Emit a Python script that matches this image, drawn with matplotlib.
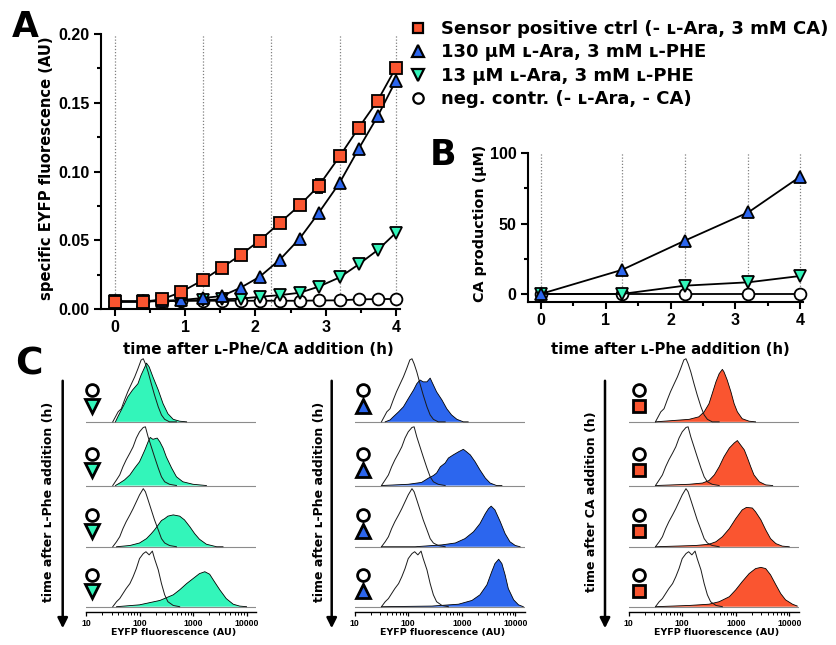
import numpy as np
import matplotlib
matplotlib.use('Agg')
from matplotlib import pyplot as plt
from matplotlib.lines import Line2D
import matplotlib.transforms as mtransforms

plt.rcParams['font.family'] = ['DejaVu Sans']
plt.rcParams['font.weight'] = 'bold'
plt.rcParams['axes.labelweight'] = 'bold'

W, H = 836, 645

RED = '#FA5530'
BLUE = '#2C66EE'
GREEN = '#33F5BA'

# --- panel A: specific EYFP fluorescence (AU) ---
sample_times = [0, 1.25, 2.22, 3.2, 4.0]
t_a = [0, 0.4, 0.67, 0.94, 1.25, 1.52, 1.79, 2.06, 2.35, 2.63, 2.9, 3.2, 3.47, 3.74, 4.0]
sq_a = [0.0053, 0.0053, 0.007, 0.0123, 0.021, 0.030, 0.0394, 0.0498, 0.0628, 0.0754,
        0.0894, 0.111, 0.1317, 0.1514, 0.1754]
sq_err = [0, 0, 0, 0, 0, 0, 0, 0, 0, 0, 0.005, 0, 0, 0, 0]
up_a = [0.0055, 0.0055, 0.006, 0.0065, 0.008, 0.0094, 0.0155, 0.0234, 0.036, 0.0512,
        0.0698, 0.0918, 0.1164, 0.140, 0.166]
down_a = [0.0055, 0.0055, 0.0058, 0.006, 0.0065, 0.007, 0.0075, 0.0089, 0.0101, 0.0118,
          0.0162, 0.023, 0.0324, 0.0428, 0.0553]
neg_a = [0.0055, 0.0055, 0.0058, 0.006, 0.006, 0.006, 0.006, 0.006, 0.006, 0.006,
         0.0062, 0.0063, 0.007, 0.0072, 0.0073]

# --- panel B: CA production (uM) ---
t_b = [0, 1.25, 2.22, 3.2, 4.0]
ca_130 = [0, 17.1, 37.9, 58.1, 83.5]
ca_13 = [0, 0, 5.9, 8.3, 12.8]
ca_neg = [0, 0, 0, 0, 0]

legend_labels = ['Sensor positive ctrl (- ʟ-Ara, 3 mM CA)',
                 '130 µM ʟ-Ara, 3 mM ʟ-PHE',
                 '13 µM ʟ-Ara, 3 mM ʟ-PHE',
                 'neg. contr. (- ʟ-Ara, - CA)']

# --- panel C: histograms, log10(EYFP) vs relative counts, top row = first time point ---
neg_x = [[1.50, 1.55, 1.60, 1.66, 1.72, 1.78, 1.85, 1.91, 1.97, 2.03, 2.07, 2.11, 2.16, 2.22, 2.28, 2.35, 2.41, 2.47, 2.56, 2.69],
         [1.50, 1.57, 1.63, 1.69, 1.75, 1.82, 1.88, 1.94, 2.00, 2.07, 2.11, 2.16, 2.22, 2.28, 2.35, 2.41, 2.47, 2.56, 2.69],
         [1.50, 1.57, 1.63, 1.69, 1.75, 1.82, 1.88, 1.94, 2.00, 2.07, 2.11, 2.16, 2.22, 2.28, 2.35, 2.41, 2.47, 2.56, 2.69],
         [1.50, 1.57, 1.63, 1.69, 1.75, 1.82, 1.88, 1.94, 2.00, 2.07, 2.12, 2.18, 2.24, 2.28, 2.35, 2.41, 2.47, 2.53, 2.63, 2.75]]
neg_y = [[0, 8, 16, 21, 35, 48, 61, 72, 85, 99, 101, 93, 80, 61, 43, 24, 11, 4, 0, 0],
         [0, 9, 17, 30, 41, 52, 62, 76, 86, 93, 94, 78, 62, 46, 28, 14, 6, 2, 0],
         [0, 8, 16, 29, 40, 51, 61, 72, 83, 93, 88, 75, 59, 43, 27, 13, 6, 2, 0],
         [0, 8, 13, 21, 29, 37, 48, 61, 77, 85, 88, 83, 89, 77, 59, 37, 19, 8, 2, 0]]

green_x = [[1.55, 1.60, 1.66, 1.72, 1.78, 1.87, 1.97, 2.03, 2.10, 2.13, 2.18, 2.25, 2.35, 2.44, 2.53, 2.63, 2.75, 2.88],
           [1.55, 1.63, 1.72, 1.82, 1.91, 2.00, 2.10, 2.16, 2.20, 2.25, 2.33, 2.38, 2.44, 2.50, 2.60, 2.69, 2.81, 3.00, 3.25],
           [1.57, 1.82, 2.00, 2.13, 2.22, 2.28, 2.35, 2.41, 2.47, 2.53, 2.63, 2.75, 2.84, 2.94, 3.03, 3.12, 3.25, 3.44, 3.56],
           [1.57, 2.00, 2.38, 2.63, 2.75, 2.88, 3.00, 3.12, 3.22, 3.31, 3.40, 3.50, 3.62, 3.75, 3.87, 4.00]]
green_y = [[0, 9, 19, 29, 40, 51, 61, 75, 88, 94, 88, 72, 51, 29, 13, 4, 1, 0],
           [0, 4, 9, 17, 28, 38, 57, 70, 77, 74, 76, 70, 60, 46, 28, 14, 6, 2, 0],
           [0, 2, 6, 13, 21, 27, 35, 42, 45, 49, 51, 49, 43, 32, 21, 12, 4, 0, 0],
           [0, 3, 10, 19, 27, 37, 45, 53, 56, 52, 40, 27, 13, 4, 1, 0]]

blue_x = [[1.57, 1.66, 1.72, 1.82, 1.91, 2.00, 2.10, 2.16, 2.22, 2.28, 2.35, 2.41, 2.47, 2.53, 2.63, 2.72, 2.81, 2.91, 3.03, 3.12],
          [1.50, 2.00, 2.25, 2.38, 2.47, 2.53, 2.60, 2.69, 2.75, 2.84, 2.94, 3.03, 3.09, 3.16, 3.25, 3.34, 3.44, 3.53, 3.65, 3.75],
          [1.50, 2.13, 2.63, 2.88, 3.06, 3.22, 3.34, 3.44, 3.50, 3.55, 3.62, 3.72, 3.81, 3.90, 4.00, 4.09],
          [1.50, 2.44, 2.94, 3.19, 3.34, 3.47, 3.56, 3.62, 3.69, 3.75, 3.81, 3.87, 3.97, 4.06, 4.15]]
blue_y = [[0, 3, 8, 16, 24, 37, 51, 61, 67, 64, 64, 70, 59, 48, 35, 21, 11, 4, 0, 0],
          [0, 2, 5, 12, 16, 20, 30, 36, 44, 49, 54, 58, 54, 49, 38, 25, 12, 4, 0, 0],
          [0, 0, 3, 6, 13, 24, 37, 53, 61, 65, 59, 40, 21, 8, 2, 0],
          [0, 1, 4, 10, 19, 35, 56, 69, 76, 69, 51, 29, 11, 3, 0]]

red_x = [[1.50, 1.82, 2.13, 2.31, 2.41, 2.50, 2.56, 2.63, 2.69, 2.75, 2.78, 2.84, 2.91, 2.97, 3.03, 3.12, 3.25, 3.37],
         [1.50, 2.13, 2.38, 2.50, 2.60, 2.69, 2.78, 2.88, 2.97, 3.03, 3.09, 3.16, 3.22, 3.28, 3.34, 3.44, 3.56, 3.69],
         [1.50, 2.25, 2.50, 2.63, 2.75, 2.88, 3.00, 3.12, 3.20, 3.31, 3.37, 3.47, 3.56, 3.65, 3.75, 3.87, 4.00],
         [1.50, 2.13, 2.50, 2.69, 2.88, 3.00, 3.12, 3.25, 3.37, 3.47, 3.56, 3.65, 3.75, 3.84, 3.93, 4.06, 4.15]]
red_y = [[0, 2, 4, 8, 16, 29, 45, 64, 77, 84, 80, 67, 48, 29, 16, 5, 1, 0],
         [0, 2, 4, 8, 17, 30, 46, 60, 68, 72, 65, 57, 44, 30, 17, 6, 1, 0],
         [0, 2, 4, 8, 16, 29, 45, 59, 63, 62, 56, 43, 27, 13, 5, 1, 0],
         [0, 2, 4, 8, 16, 27, 40, 53, 61, 63, 61, 51, 35, 21, 11, 4, 1]]

flow_ticks = [10, 100, 1000, 10000]


def rect(l, t, r, b):
    return [l / W, 1 - b / H, (r - l) / W, (b - t) / H]


def fx(x):
    return x / W


def fy(y):
    return 1 - y / H


def tick_font(ax, size):
    for lab in ax.get_xticklabels() + ax.get_yticklabels():
        lab.set_fontfamily('Liberation Sans')
        lab.set_fontsize(size)
        lab.set_fontweight('bold')


fig = plt.figure(figsize=(W / 100, H / 100), dpi=100)


def style_axes(ax):
    ax.spines[['top', 'right']].set_visible(False)
    ax.spines[['left', 'bottom']].set_linewidth(1.5)
    ax.tick_params(which='major', width=1.5, length=5, pad=3)
    ax.tick_params(which='minor', width=1.5, length=3)
    tick_font(ax, 11.5)


# panel A
axA = fig.add_axes(rect(101, 34, 400, 309))
for t in sample_times:
    axA.axvline(t, color='0.5', ls=(0, (1, 1.5)), lw=0.9, zorder=0)
line_kw = dict(color='k', lw=1.3, mec='k', mew=1.3, clip_on=False)
axA.plot(t_a, neg_a, marker='o', mfc='white', ms=8.5, **line_kw)
axA.plot(t_a, down_a, marker='v', mfc=GREEN, ms=9, **line_kw)
axA.plot(t_a, up_a, marker='^', mfc=BLUE, ms=9, **line_kw)
axA.errorbar(t_a, sq_a, yerr=sq_err, marker='s', mfc=RED, ms=8.5, capsize=3,
             ecolor='k', elinewidth=1, **line_kw)
axA.set_xlim(-0.2, 4.06)
axA.set_ylim(0, 0.2)
axA.set_xticks([0, 1, 2, 3, 4])
axA.set_xticks(np.arange(0.5, 4, 1), minor=True)
axA.set_yticks([0, 0.05, 0.10, 0.15, 0.20])
axA.set_yticks([0.025, 0.075, 0.125, 0.175], minor=True)
axA.set_yticklabels(['0.00', '0.05', '0.10', '0.15', '0.20'])
style_axes(axA)

# panel B
axB = fig.add_axes(rect(527.7, 153.3, 803, 301.7))
for t in sample_times:
    axB.axvline(t, color='0.5', ls=(0, (1, 1.5)), lw=0.9, zorder=0)
axB.plot(t_b, ca_neg, marker='o', mfc='white', ms=8.5, **line_kw)
axB.plot(t_b, ca_13, marker='v', mfc=GREEN, ms=9, **line_kw)
axB.plot(t_b, ca_130, marker='^', mfc=BLUE, ms=9, **line_kw)
axB.set_xlim(-0.2, 4.04)
axB.set_ylim(-5.5, 100)
axB.set_xticks([0, 1, 2, 3, 4])
axB.set_xticks(np.arange(0.5, 4, 1), minor=True)
axB.set_yticks([0, 50, 100])
axB.set_yticks([25, 75], minor=True)
style_axes(axB)

fig.text(fx(47), fy(168), 'specific EYFP fluorescence (AU)', rotation=90,
         ha='center', va='center', fontsize=10.6)
fig.text(fx(258), fy(350), 'time after ʟ-Phe/CA addition (h)', ha='center', va='center', fontsize=10.9)
fig.text(fx(480), fy(223), 'CA production (μM)', rotation=90, ha='center', va='center', fontsize=10.3)
fig.text(fx(670), fy(350), 'time after ʟ-Phe addition (h)', ha='center', va='center', fontsize=10.7)

fig.text(fx(25), fy(27), 'A', ha='center', va='center', fontsize=25)
fig.text(fx(443), fy(155), 'B', ha='center', va='center', fontsize=25)
fig.text(fx(29), fy(364), 'C', ha='center', va='center', fontsize=27)

handles = [Line2D([], [], ls='none', marker='s', mfc=RED, mec='k', mew=1.6, ms=7.5),
           Line2D([], [], ls='none', marker='^', mfc=BLUE, mec='k', mew=1.6, ms=8),
           Line2D([], [], ls='none', marker='v', mfc=GREEN, mec='k', mew=1.6, ms=8),
           Line2D([], [], ls='none', marker='o', mfc='white', mec='k', mew=1.6, ms=7.5)]
fig.legend(handles, legend_labels, loc='upper left', bbox_to_anchor=(fx(411), fy(20)),
           frameon=False, fontsize=13, handlelength=0.8, handletextpad=0.85,
           labelspacing=0.3, borderpad=0, borderaxespad=0)

# panel C
row_base = [296, 194, 96, 0]
col_left = [86, 354.7, 628.7]
col_mark_x = [0.034, 0.049, 0.059]
arrow_x = [62.7, 331.7, 605]
arrow_label_x = [49, 320, 592]
arrow_labels = ['time after ʟ-Phe addition (h)', 'time after ʟ-Phe addition (h)',
                'time after CA addition (h)']
cols = [(green_x, green_y, GREEN, 'v'), (blue_x, blue_y, BLUE, '^'), (red_x, red_y, RED, 's')]

for ci, (xs, ys, color, mk) in enumerate(cols):
    ax = fig.add_axes(rect(col_left[ci], 350, col_left[ci] + 170, 611.7))
    ax.patch.set_visible(False)
    ax.set_xscale('log')
    ax.set_xlim(10, 15000)
    ax.set_ylim(-8, 411)
    trans = mtransforms.blended_transform_factory(ax.transAxes, ax.transData)
    for r in range(4):
        b = row_base[r]
        ax.axhline(b, color='0.55', lw=0.8, zorder=1)
        x = 10 ** np.array(xs[r])
        y = b + np.array(ys[r])
        ax.fill_between(x, b, y, facecolor=color, edgecolor='none', zorder=2)
        ax.plot(x, y, color='k', lw=0.6, zorder=3)
        ax.plot(10 ** np.array(neg_x[r]), b + np.array(neg_y[r]), color='0.1', lw=0.7, zorder=4)
        ax.plot([col_mark_x[ci]], [b + 51], transform=trans, marker='o', mfc='white',
                mec='k', mew=2, ms=8.5, clip_on=False)
        ax.plot([col_mark_x[ci]], [b + 25], transform=trans, marker=mk, mfc=color,
                mec='k', mew=2, ms=9 if mk == 's' else 9.5, clip_on=False)
    ax.spines[['top', 'right', 'left']].set_visible(False)
    ax.spines['bottom'].set_linewidth(1.0)
    ax.set_yticks([])
    ax.set_xticks(flow_ticks)
    ax.set_xticklabels([str(v) for v in flow_ticks])
    ax.tick_params(which='major', length=3, width=0.9, pad=2)
    ax.tick_params(which='minor', length=1.8, width=0.7)
    tick_font(ax, 6.3)
    fig.text(fx(col_left[ci] + 88), fy(633), 'EYFP fluorescence (AU)', ha='center', va='center', fontsize=6.8)
    fig.text(fx(arrow_label_x[ci]), fy(502), arrow_labels[ci], rotation=90, ha='center',
             va='center', fontsize=9)
    ax.annotate('', xy=(fx(arrow_x[ci]), fy(631)), xytext=(fx(arrow_x[ci]), fy(378)),
                xycoords='figure fraction', textcoords='figure fraction',
                arrowprops=dict(arrowstyle='-|>', lw=1.8, color='k', mutation_scale=15))

fig.savefig('out.png', dpi=100)
